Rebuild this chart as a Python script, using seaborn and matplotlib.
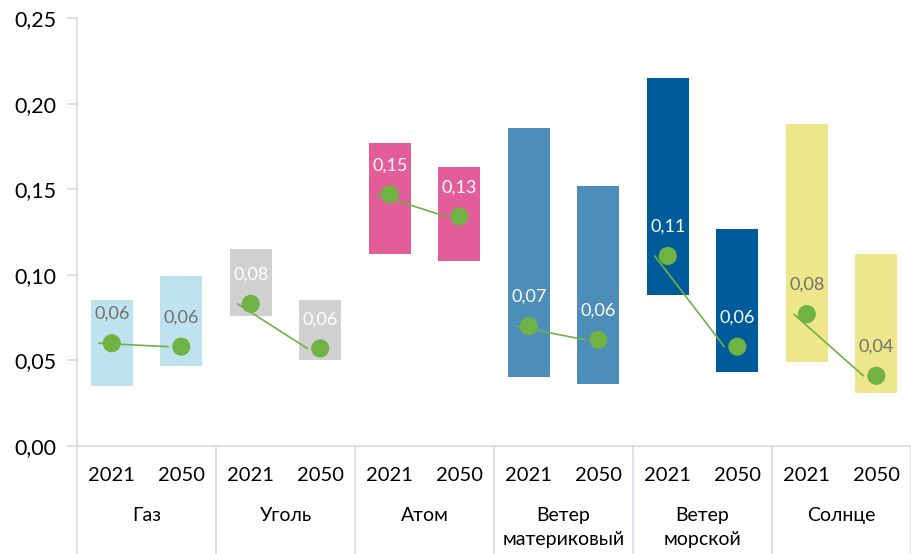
import seaborn as sns
from matplotlib import pyplot as plt
from matplotlib import transforms
from matplotlib.ticker import FuncFormatter
import pandas as pd

# source categories and years
groups = ["Газ", "Уголь", "Атом", "Ветер\nматериковый", "Ветер\nморской", "Солнце"]
years = ["2021", "2050"]

# range (low/high) and central value per bar, in group order, 2021 then 2050
low = [0.035, 0.047, 0.076, 0.050, 0.112, 0.108, 0.040, 0.036, 0.088, 0.043, 0.049, 0.031]
high = [0.085, 0.099, 0.115, 0.085, 0.177, 0.163, 0.186, 0.152, 0.215, 0.127, 0.188, 0.112]
mid = [0.060, 0.058, 0.083, 0.057, 0.147, 0.134, 0.070, 0.062, 0.111, 0.058, 0.077, 0.041]

bar_colors = ["#BEE3EE", "#BEE3EE", "#D0D0D0", "#D0D0D0", "#E35D98", "#E35D98",
              "#4C8DBA", "#4C8DBA", "#005B9B", "#005B9B", "#EEE68A", "#EEE68A"]
label_colors = ["#707070", "#707070", "white", "white", "white", "white",
                "white", "white", "white", "white", "#707070", "#707070"]

df = pd.DataFrame({
    "group": [g for g in groups for _ in years],
    "year": years * len(groups),
    "low": low, "high": high, "mid": mid,
})
df["key"] = df["group"] + " " + df["year"]
df["span"] = df["high"] - df["low"]
df["pos"] = range(len(df))

sns.set_theme(style="white")
plt.rcParams["font.family"] = ["Lato", "DejaVu Sans"]

fig, ax = plt.subplots(figsize=(9.12, 5.54), dpi=100)
fig.subplots_adjust(left=0.0844, right=0.999, top=0.9675, bottom=0.195)

# floating bars: height = span, then lift each bar to its low value
sns.barplot(data=df, x="key", y="span", hue="key", palette=bar_colors,
            width=0.6, legend=False, ax=ax, saturation=1)
for patch, lo in zip(ax.patches, df["low"]):
    patch.set_y(lo)
    patch.set_linewidth(0)

# green connector lines (Excel draws them slightly shifted to the left)
shift = transforms.ScaledTranslation(-13 / 100, 0, fig.dpi_scale_trans)
for g, sub in df.groupby("group", sort=False):
    ax.plot(sub["pos"], sub["mid"], color="#70B244", lw=1.2,
            transform=ax.transData + shift, zorder=3)

sns.scatterplot(data=df, x="pos", y="mid", color="#70B244", s=170,
                edgecolor="none", ax=ax, zorder=4)

for _, r in df.iterrows():
    ax.annotate(f"{r['mid']:.2f}".replace(".", ","), (r["pos"], r["mid"]),
                xytext=(0, 21), textcoords="offset points", ha="center",
                va="center", fontsize=13, color=label_colors[r["pos"]])

ax.set_ylim(0, 0.25)
ax.set_xlim(-0.5, len(df) - 0.5)
ax.set_yticks([0, 0.05, 0.10, 0.15, 0.20, 0.25])
ax.yaxis.set_major_formatter(FuncFormatter(lambda v, _: f"{v:.2f}".replace(".", ",")))
ax.tick_params(axis="y", labelsize=15.5, length=7, color="#D9D9E3", left=True,
               pad=8, labelcolor="black")
ax.set_xticks([])
ax.set_xlabel("")
ax.set_ylabel("")

sns.despine(ax=ax, top=True, right=True)
for side in ["left", "bottom"]:
    ax.spines[side].set_color("#D9D9E3")
    ax.spines[side].set_linewidth(1.2)

# two-level category axis
blend = transforms.blended_transform_factory(ax.transData, ax.transAxes)
for _, r in df.iterrows():
    ax.text(r["pos"], -0.068, r["year"], transform=blend, ha="center",
            va="center", fontsize=14.5, color="black")
for i, g in enumerate(groups):
    ax.text(2 * i + 0.5, -0.142, g, transform=blend, ha="center", va="top",
            fontsize=14, color="black", linespacing=1.55)
for i in range(len(groups) + 1):
    ax.plot([2 * i - 0.5, 2 * i - 0.5], [0, -0.26], transform=blend,
            color="#D9D9E3", lw=1.2, clip_on=False)

fig.savefig("out.png", dpi=100)
